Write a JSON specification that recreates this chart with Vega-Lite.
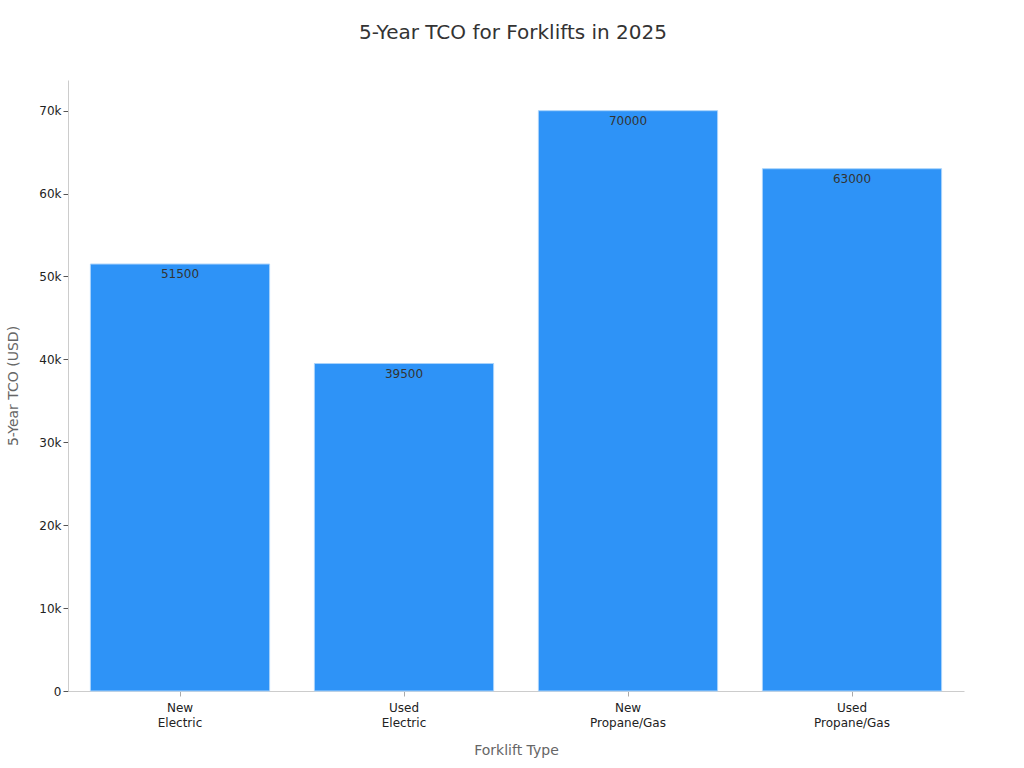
{
  "$schema": "https://vega.github.io/schema/vega-lite/v6.json",
  "autosize": "none",
  "width": 896,
  "height": 611,
  "padding": {"left": 68, "top": 80, "right": 60, "bottom": 77},
  "background": "white",
  "title": {
    "text": "5-Year TCO for Forklifts in 2025",
    "font": "DejaVu Sans",
    "fontSize": 20,
    "fontWeight": "normal",
    "color": "#333333",
    "offset": 37,
    "dx": -3
  },
  "config": {
    "view": {"stroke": null},
    "font": "DejaVu Sans"
  },
  "data": {
    "values": [
      {"type": "New Electric", "tco": 51500},
      {"type": "Used Electric", "tco": 39500},
      {"type": "New Propane/Gas", "tco": 70000},
      {"type": "Used Propane/Gas", "tco": 63000}
    ]
  },
  "encoding": {
    "x": {
      "field": "type",
      "type": "nominal",
      "sort": null,
      "title": "Forklift Type",
      "scale": {"paddingInner": 0.2, "paddingOuter": 0.1},
      "axis": {
        "labelAngle": 0,
        "labelExpr": "split(datum.label, ' ')",
        "labelLineHeight": 15,
        "labelFontSize": 12,
        "labelColor": "#222222",
        "labelPadding": 6,
        "tickColor": "#aaaaaa",
        "domainColor": "#cccccc",
        "titleFontSize": 14,
        "titleFontWeight": "normal",
        "titleColor": "#666666",
        "titlePadding": 15
      }
    },
    "y": {
      "field": "tco",
      "type": "quantitative",
      "title": "5-Year TCO (USD)",
      "scale": {"domain": [0, 73700], "nice": false},
      "axis": {
        "values": [0, 10000, 20000, 30000, 40000, 50000, 60000, 70000],
        "labelExpr": "datum.value == 0 ? '0' : format(datum.value / 1000, 'd') + 'k'",
        "grid": false,
        "labelFontSize": 12,
        "labelColor": "#222222",
        "tickColor": "#555555",
        "domainColor": "#cccccc",
        "titleFontSize": 14,
        "titleFontWeight": "normal",
        "titleColor": "#666666",
        "titlePadding": 18
      }
    }
  },
  "layer": [
    {
      "mark": {"type": "bar", "color": "#2e93f7", "stroke": "#a9d3fb", "strokeWidth": 1}
    },
    {
      "mark": {"type": "text", "baseline": "top", "dy": 5, "fontSize": 12, "color": "#333333"},
      "encoding": {
        "text": {"field": "tco", "type": "quantitative", "format": "d"}
      }
    }
  ]
}
